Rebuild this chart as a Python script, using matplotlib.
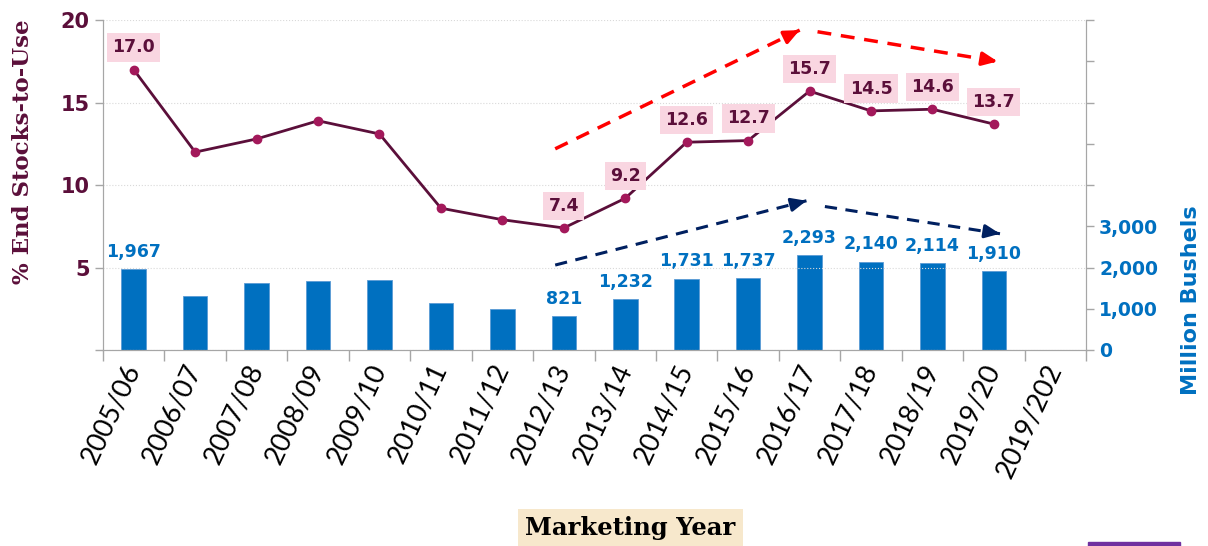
import matplotlib.pyplot as plt
import numpy as np
from matplotlib.patches import Rectangle

years = ['2005/06', '2006/07', '2007/08', '2008/09', '2009/10', '2010/11',
         '2011/12', '2012/13', '2013/14', '2014/15', '2015/16', '2016/17',
         '2017/18', '2018/19', '2019/20', '2019/202']
stocks_to_use = [17.0, 12.0, 12.8, 13.9, 13.1, 8.6, 7.9, 7.4, 9.2, 12.6, 12.7,
                 15.7, 14.5, 14.6, 13.7]
ending_stocks = [1967, 1304, 1624, 1673, 1708, 1128, 989, 821, 1232, 1731,
                 1737, 2293, 2140, 2114, 1910]
labeled = [0, 7, 8, 9, 10, 11, 12, 13, 14]

maroon = '#5B0F3A'
marker_c = '#A3195B'
pink = '#F9D6E1'
blue = '#0070C0'
grey = '#A6A6A6'

fig = plt.figure(figsize=(12.08, 5.46), dpi=100)
ax = fig.add_axes([0.0853, 0.359, 0.8137, 0.604])
ax2 = ax.twinx()
ax.set_zorder(ax2.get_zorder() + 1)
ax.patch.set_visible(False)

x = np.arange(len(stocks_to_use))
xb = np.arange(len(ending_stocks))

# bars (right axis)
ax2.bar(xb, ending_stocks, width=0.4, color=blue, edgecolor='#5B9BD5', linewidth=0.6)
for i in labeled:
    ax2.annotate(f"{ending_stocks[i]:,}", (xb[i], ending_stocks[i]), xytext=(0, 6),
                 textcoords='offset points', ha='center', va='bottom',
                 color=blue, fontsize=12.5, fontweight='bold', family='DejaVu Sans')

# line (left axis)
ax.plot(x, stocks_to_use, color=maroon, lw=2, marker='o', ms=6,
        mfc=marker_c, mec=marker_c, zorder=3)
for i in labeled:
    ax.annotate(f"{stocks_to_use[i]:.1f}", (x[i], stocks_to_use[i]), xytext=(0, 16),
                textcoords='offset points', ha='center', va='center',
                color=maroon, fontsize=12.5, fontweight='bold', family='DejaVu Sans',
                bbox=dict(boxstyle='square,pad=0.3', fc=pink, ec='none'), zorder=4)


def dashed_arrow(p0, p1, color, lw):
    ax.plot([p0[0], p1[0]], [p0[1], p1[1]], ls=(0, (4, 2.8)), color=color, lw=lw, zorder=2)
    d0 = (p0[0] + 0.97 * (p1[0] - p0[0]), p0[1] + 0.97 * (p1[1] - p0[1]))
    ax.annotate('', xy=p1, xytext=d0,
                arrowprops=dict(arrowstyle='-|>,head_length=0.9,head_width=0.4',
                                color=color, lw=lw, shrinkA=0, shrinkB=0), zorder=2)


dashed_arrow((6.86, 12.2), (10.84, 19.4), '#FF0000', 2.5)
dashed_arrow((11.13, 19.3), (14.06, 17.5), '#FF0000', 2.5)
dashed_arrow((6.86, 5.15), (10.95, 9.05), '#002060', 2.2)
dashed_arrow((11.25, 8.7), (14.1, 7.05), '#002060', 2.2)

# axes setup
ax.set_xlim(-0.5, len(years) - 0.5)
ax.set_ylim(0, 20)
ax2.set_ylim(0, 8000)

ax.set_yticks([0, 5, 10, 15, 20])
ax.set_yticklabels(['', '5', '10', '15', '20'])
ax.tick_params(axis='y', colors=grey, labelcolor=maroon, labelsize=15, length=6, width=1)
for t in ax.get_yticklabels():
    t.set_fontweight('bold')
ax.yaxis.grid(True, color='#D9D9D9', ls=':', lw=0.8)

ax2.set_yticks(np.arange(0, 8001, 1000))
ax2.set_yticklabels(['0', '1,000', '2,000', '3,000', '', '', '', '', ''])
ax2.tick_params(axis='y', colors=grey, labelcolor=blue, labelsize=13.5, length=6, width=1)
for t in ax2.get_yticklabels():
    t.set_fontweight('bold')

ax.set_xticks(np.arange(-0.5, len(years)), minor=False)
ax.set_xticklabels([])
ax.set_xticks(np.arange(len(years)), minor=True)
ax.set_xticklabels(years, minor=True, rotation=65, ha='right', va='center',
                   rotation_mode='anchor', fontsize=19.5, color='black',
                   family=['Lato', 'DejaVu Sans'], fontweight='normal')
ax.tick_params(axis='x', which='major', colors=grey, length=8, width=1)
ax.tick_params(axis='x', which='minor', length=0, pad=11)

for a in (ax, ax2):
    a.spines['top'].set_visible(False)
    for s in ('left', 'right', 'bottom'):
        a.spines[s].set_color(grey)

ax.set_ylabel('% End Stocks-to-Use', family='DejaVu Serif', fontweight='bold',
              fontsize=16.5, color=maroon)
ax.yaxis.set_label_coords(-0.07, 0.6)
ax2.set_ylabel('Million Bushels', family='DejaVu Sans', fontweight='bold',
               fontsize=16, color=blue)
ax2.yaxis.set_label_coords(1.097, 0.15)

fig.text(0.522, 0.033, 'Marketing Year', ha='center', va='center',
         family='DejaVu Serif', fontweight='bold', fontsize=17.5, color='black',
         bbox=dict(boxstyle='square,pad=0.3', fc='#F7E8CC', ec='none'))

fig.patches.append(Rectangle((1088 / 1208, 0), 92 / 1208, 4 / 546,
                             transform=fig.transFigure, color='#7030A0'))

fig.savefig('out.png', dpi=100)
